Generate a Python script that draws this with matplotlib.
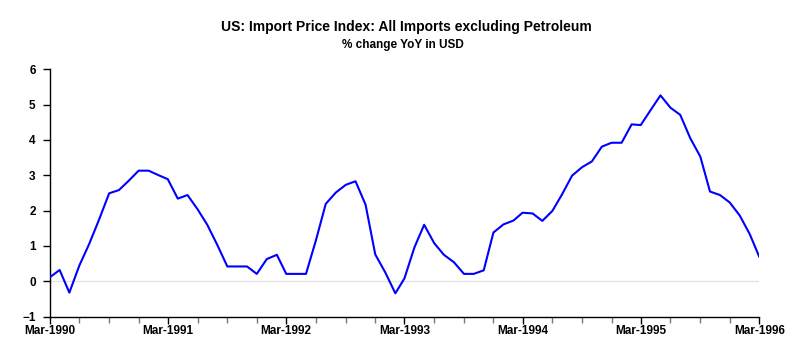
#US import price index chart, excluding petroleum


import matplotlib
matplotlib.use('Agg')
import matplotlib.pyplot as plt
import matplotlib.dates as mdates
import numpy as np
import pandas as pd

#Monthly % change YoY, Mar-1990 to Mar-1996
startMonth = '1990-03'
yoyChange = [
    0.11, 0.32, -0.32, 0.45, 1.05, 1.75, 2.49, 2.58, 2.85, 3.13, 3.13, 3.00,
    2.89, 2.34, 2.44, 2.04, 1.60, 1.03, 0.42, 0.42, 0.42, 0.21, 0.63, 0.75,
    0.21, 0.21, 0.21, 1.17, 2.19, 2.51, 2.73, 2.83, 2.17, 0.76, 0.25, -0.34,
    0.08, 0.96, 1.60, 1.08, 0.75, 0.54, 0.21, 0.21, 0.31, 1.38, 1.61, 1.72,
    1.94, 1.92, 1.71, 1.99, 2.46, 2.99, 3.23, 3.39, 3.81, 3.92, 3.92, 4.44,
    4.42, 4.85, 5.26, 4.91, 4.71, 4.05, 3.53, 2.54, 2.44, 2.23, 1.86, 1.33,
    0.70,
]
yTicks = [-1, 0, 1, 2, 3, 4, 5, 6]

title = 'US: Import Price Index: All Imports excluding Petroleum'
subtitle = '% change YoY in USD'

dates = pd.date_range(startMonth, periods=len(yoyChange), freq='MS')

plt.rcParams['font.family'] = ['Liberation Sans', 'DejaVu Sans']

fig = plt.figure(figsize=(8, 3.55), dpi=100)
ax = fig.add_axes([0.062, 0.108, 0.887, 0.697])

ax.axhline(0, color='#e4e4e4', lw=1, zorder=1)
ax.plot(dates, yoyChange, color='#0000ff', lw=1.5, zorder=3)

ax.set_xlim(dates[0], dates[-1])
ax.set_ylim(-1, 6)
ax.set_yticks(yTicks)

ax.xaxis.set_major_locator(mdates.MonthLocator(bymonth=3))
ax.xaxis.set_major_formatter(mdates.DateFormatter('%b-%Y'))
ax.xaxis.set_minor_locator(mdates.MonthLocator(bymonth=[3, 6, 9, 12]))

for side in ['top', 'right']:
    ax.spines[side].set_visible(False)
for side in ['left', 'bottom']:
    ax.spines[side].set_color('black')
    ax.spines[side].set_linewidth(1)

ax.tick_params(axis='both', which='major', length=5, width=1, color='black', labelsize=8.5)
ax.tick_params(axis='x', which='major', pad=1)
ax.tick_params(axis='y', which='major', pad=5)
ax.tick_params(axis='x', which='minor', length=4, width=1, color='#777777')
for lab in ax.get_xticklabels() + ax.get_yticklabels():
    lab.set_fontweight('bold')

fig.text(0.508, 0.923, title, ha='center', va='center', fontsize=10, fontweight='heavy')
fig.text(0.504, 0.873, subtitle, ha='center', va='center', fontsize=8.5, fontweight='heavy')

plt.savefig('out.png', format='png', dpi=100)
plt.close()
